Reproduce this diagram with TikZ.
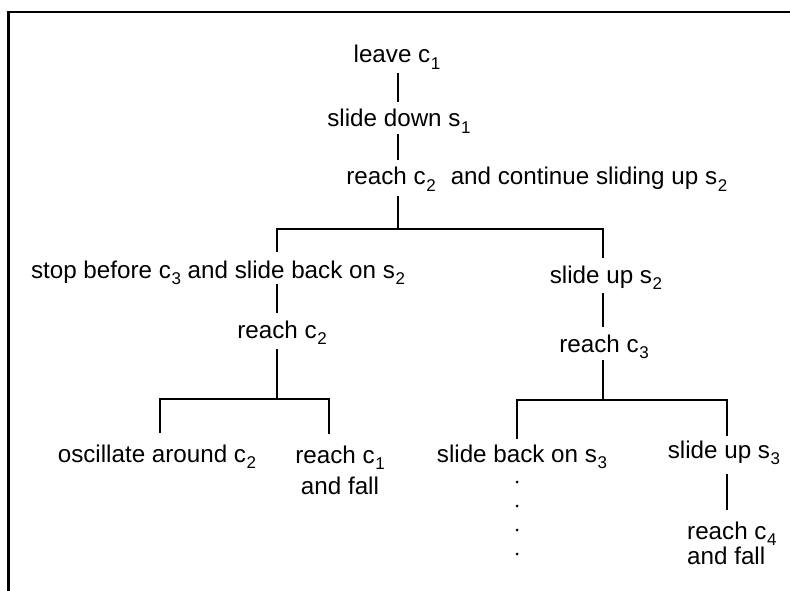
\documentclass[tikz,border=0pt]{standalone}
\usepackage{fontspec}
\setmainfont{Liberation Sans}
\newcommand{\lowidx}[1]{\kern0.6pt\raisebox{-6.5pt}{\fontsize{17}{17}\selectfont #1}}
\tikzset{
    stage/.style={inner sep=0pt, text height=17pt, text depth=7pt, anchor=base},
    tree/.style={line width=2.4pt},
    link/.style={tree, shorten <=3pt, shorten >=8pt},
}
\begin{document}
\begin{tikzpicture}[x=1pt,y=-1pt,font=\fontsize{24.2}{29}\selectfont]
    \useasboundingbox (0,0) rectangle (790,591);
    \draw [line width=2.4pt] (793,12) -- (8.5,12) -- (8.5,594);

    % trunk
    \node [stage] (leave) at (397,63) {leave c\lowidx{1}};
    \node [stage] (slidedown) at (399,127) {slide down s\lowidx{1}};
    \node [stage] (reachtwo) at (391,185) {reach c\lowidx{2}};
    \node [stage] (contup) at (589,185) {and continue sliding up s\lowidx{2}};
    \coordinate (fa) at (398,229);
    \coordinate (faL) at (277,229);
    \coordinate (faR) at (603,229);

    % left branch
    \node [stage] (stopback) at (218,278) {stop before c\lowidx{3} and slide back on s\lowidx{2}};
    \node [stage] (reachback) at (282,338) {reach c\lowidx{2}};
    \coordinate (fb) at (277,399);
    \coordinate (fbL) at (160,399);
    \coordinate (fbR) at (329,399);
    \node [stage] (oscil) at (157,462) {oscillate around c\lowidx{2}};
    \node [inner sep=0pt, anchor=north, align=center] (fallone) at (340,445.5)
        {reach c\lowidx{1}\\[2pt]and fall};

    % right branch
    \node [stage] (slideuptwo) at (606,283) {slide up s\lowidx{2}};
    \node [stage] (reachthree) at (604,352) {reach c\lowidx{3}};
    \coordinate (fc) at (603,400);
    \coordinate (fcL) at (517,400);
    \coordinate (fcR) at (727,400);
    \node [stage] (backthree) at (522,462) {slide back on s\lowidx{3}};
    \node [stage] (slideupthree) at (724,458) {slide up s\lowidx{3}};
    \node [inner sep=0pt, anchor=north west, align=left] (fallfour) at (687,521.5)
        {reach c\lowidx{4}\\[-4pt]and fall};

    \draw [link] (leave.south -| fa) -- (slidedown.north -| fa);
    \draw [link, shorten <=0pt] (slidedown.south -| fa) -- (reachtwo.north -| fa);
    \draw [tree, shorten <=4pt] (reachtwo.south -| fa) -- (fa);
    \draw [tree, shorten <=9pt, shorten >=8pt]
        (stopback.north -| faL) -- (faL) -- (faR) -- (slideuptwo.north -| faR);

    \draw [link, shorten <=-1pt] (stopback.south -| faL) -- (reachback.north -| faL);
    \draw [tree, shorten <=4pt] (reachback.south -| fb) -- (fb);
    \draw [tree, shorten <=12pt, shorten >=12pt]
        (oscil.north -| fbL) -- (fbL) -- (fbR) -- (fallone.north -| fbR);

    \draw [link] (slideuptwo.south -| faR) -- (reachthree.north -| faR);
    \draw [tree, shorten <=1pt] (reachthree.south -| fc) -- (fc);
    \draw [tree, shorten <=6pt, shorten >=5pt]
        (backthree.north -| fcL) -- (fcL) -- (fcR) -- (slideupthree.north -| fcR);
    \draw [tree, shorten <=9pt, shorten >=12pt] (slideupthree.south -| fcR) -- (fallfour.north -| fcR);

    \foreach \y in {482,506,530,554}
        \fill (517,\y) circle (1.5pt);
\end{tikzpicture}
\end{document}
